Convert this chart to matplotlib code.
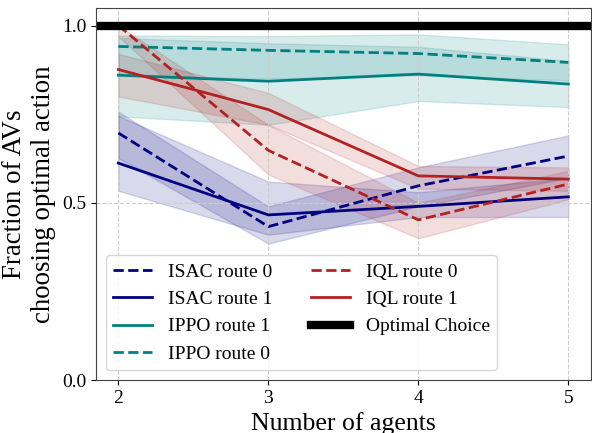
import numpy as np
import matplotlib.pyplot as plt

plt.rcParams['font.family'] = ['Liberation Serif', 'DejaVu Serif']

# number of agents
agents = [2, 3, 4, 5]

# ISAC
isac_r0 = [0.697, 0.433, 0.548, 0.632]
isac_r0_lo = [0.626, 0.385, 0.49, 0.57]
isac_r0_hi = [0.757, 0.49, 0.60, 0.69]
isac_r1 = [0.612, 0.466, 0.490, 0.517]
isac_r1_lo = [0.534, 0.41, 0.46, 0.46]
isac_r1_hi = [0.745, 0.56, 0.53, 0.57]

# IPPO
ippo_r1 = [0.860, 0.843, 0.863, 0.835]
ippo_r1_lo = [0.744, 0.72, 0.787, 0.77]
ippo_r1_hi = [0.965, 0.95, 0.94, 0.90]
ippo_r0 = [0.941, 0.930, 0.921, 0.896]
ippo_r0_lo = [0.86, 0.85, 0.86, 0.845]
ippo_r0_hi = [0.972, 0.97, 0.975, 0.947]

# IQL
iql_r0 = [1.0, 0.648, 0.452, 0.553]
iql_r0_lo = [0.97, 0.58, 0.40, 0.51]
iql_r0_hi = [1.0, 0.72, 0.50, 0.59]
iql_r1 = [0.876, 0.763, 0.576, 0.567]
iql_r1_lo = [0.80, 0.72, 0.54, 0.534]
iql_r1_hi = [0.92, 0.81, 0.604, 0.60]

optimal = 1.0

navy = '#000080'
teal = '#008080'
red = '#b22222'

fig = plt.figure(figsize=(5.92, 4.33), dpi=100)
ax = fig.add_axes([0.162, 0.122, 0.836, 0.86])

series = [
    ('ISAC route 0', isac_r0, isac_r0_lo, isac_r0_hi, navy, '--'),
    ('ISAC route 1', isac_r1, isac_r1_lo, isac_r1_hi, navy, '-'),
    ('IPPO route 1', ippo_r1, ippo_r1_lo, ippo_r1_hi, teal, '-'),
    ('IPPO route 0', ippo_r0, ippo_r0_lo, ippo_r0_hi, teal, '--'),
    ('IQL route 0', iql_r0, iql_r0_lo, iql_r0_hi, red, '--'),
    ('IQL route 1', iql_r1, iql_r1_lo, iql_r1_hi, red, '-'),
]
for name, y, lo, hi, c, ls in series:
    ax.plot(agents, y, color=c, ls=ls, lw=2, label=name)
    ax.fill_between(agents, lo, hi, color=c, alpha=0.15)

ax.axhline(optimal, color='black', lw=6, label='Optimal Choice')

ax.set_xlim(1.85, 5.15)
ax.set_ylim(0, 1.05)
ax.set_xticks(agents)
ax.set_yticks([0.0, 0.5, 1.0])
ax.tick_params(labelsize=14)
ax.grid(True, ls='--', color='#cccccc', lw=0.8)
for s in ax.spines.values():
    s.set_color('#444444')

ax.set_xlabel('Number of agents', fontsize=18.5)
ax.set_ylabel('Fraction of AVs\nchoosing optimal action', fontsize=19.3)
ax.legend(ncol=2, loc='lower left', fontsize=14)

fig.savefig('out.png', dpi=100)
